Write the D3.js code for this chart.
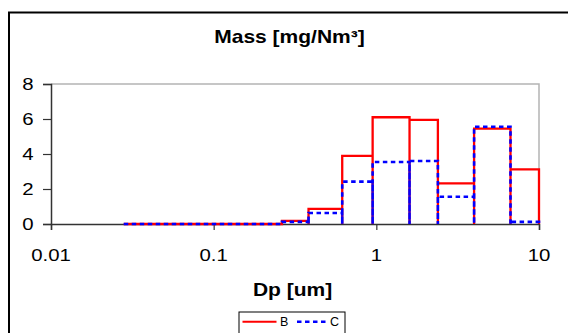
<!DOCTYPE html>
<html>
<head>
<meta charset="utf-8">
<script src="https://cdn.jsdelivr.net/npm/d3@7"></script>
<style>
  html, body { margin: 0; padding: 0; background: #fff; }
  svg { display: block; font-family: "Liberation Sans", Arial, sans-serif; }
</style>
</head>
<body>
<svg id="chart" width="568" height="333"></svg>
<script>
// Impactor stage cut diameters (um) and mass per stage (mg/Nm³)
const binEdges = [0.028, 0.056, 0.095, 0.157, 0.263, 0.383, 0.617, 0.949, 1.6, 2.39, 3.99, 6.68, 10];
const seriesB = [0, 0, 0, 0, 0.18, 0.87, 3.89, 6.10, 5.95, 2.32, 5.45, 3.12];
const seriesC = [0, 0, 0, 0, 0.12, 0.63, 2.42, 3.54, 3.60, 1.56, 5.56, 0.12];
const xTicks = [0.01, 0.1, 1, 10];
const xTickLabels = ["0.01", "0.1", "1", "10"];
const yTicks = [0, 2, 4, 6, 8];
const seriesNames = ["B", "C"];

const svg = d3.select("#chart");
const stretch = 1.2;

// Outer chart frame
svg.append("rect")
  .attr("x", 9).attr("y", 12.5)
  .attr("width", 580).attr("height", 340)
  .attr("fill", "none").attr("stroke", "#000").attr("stroke-width", 2);

const x = d3.scaleLog().domain([0.01, 10]).range([51, 539]);
const y = d3.scaleLinear().domain([0, 8]).range([224, 84]);

// Plot area border (top and right)
svg.append("path")
  .attr("d", `M${x(0.01)},${y(8)}H${x(10)}V${y(0)}`)
  .attr("fill", "none").attr("stroke", "#b4b4b4").attr("stroke-width", 1.5);

// Stretched text helper
function label(tx, ty, str, opts) {
  const t = svg.append("text")
    .attr("transform", `translate(${tx},${ty}) scale(${opts.sx || stretch},1)`)
    .attr("text-anchor", opts.anchor || "middle")
    .attr("font-size", opts.size)
    .attr("font-weight", opts.weight || "normal")
    .attr("fill", "#000")
    .text(str);
  return t;
}

// Y axis
const yAxis = d3.axisLeft(y).tickValues(yTicks).tickSize(8).tickFormat("");
const gy = svg.append("g").attr("transform", `translate(${x(0.01)},0)`).call(yAxis);
gy.select(".domain").attr("stroke", "#333").attr("stroke-width", 1.5);
gy.selectAll(".tick line").attr("stroke", "#333").attr("stroke-width", 1.2);
yTicks.forEach(v => label(33.5, y(v) + 6.3, String(v), { size: 17, anchor: "end" }));

// X axis
const xAxis = d3.axisBottom(x).tickValues(xTicks).tickSize(6).tickFormat("");
const gx = svg.append("g").attr("transform", `translate(0,${y(0)})`).call(xAxis);
gx.select(".domain").attr("stroke", "#333").attr("stroke-width", 1.5);
gx.selectAll(".tick line").attr("stroke", "#333").attr("stroke-width", 1.2);
xTicks.forEach((v, i) => label(x(v), 260.5, xTickLabels[i], { size: 17 }));

// Stepped histogram outline: each stage drawn as an open box down to zero
function stepPoints(vals) {
  const pts = [];
  vals.forEach((v, i) => {
    pts.push([binEdges[i], 0], [binEdges[i], v], [binEdges[i + 1], v], [binEdges[i + 1], 0]);
  });
  return pts;
}
const line = d3.line().x(d => x(d[0])).y(d => y(d[1]));

svg.append("path")
  .attr("d", line(stepPoints(seriesB)))
  .attr("fill", "none").attr("stroke", "#ff0000").attr("stroke-width", 2.3)
  .attr("stroke-linejoin", "miter");

svg.append("path")
  .attr("d", line(stepPoints(seriesC)))
  .attr("fill", "none").attr("stroke", "#0000ff").attr("stroke-width", 2.6)
  .attr("stroke-dasharray", "4.5,3.5");

// Titles
label(289.5, 42.5, "Mass [mg/Nm³]", { size: 17.5, weight: "bold" });
label(292.5, 296, "Dp [um]", { size: 17.5, weight: "bold" });

// Legend
const lg = svg.append("g");
lg.append("rect")
  .attr("x", 239).attr("y", 312)
  .attr("width", 106).attr("height", 30)
  .attr("fill", "#fff").attr("stroke", "#000").attr("stroke-width", 1);
lg.append("line")
  .attr("x1", 242.5).attr("x2", 276.5).attr("y1", 321.7).attr("y2", 321.7)
  .attr("stroke", "#ff0000").attr("stroke-width", 2);
lg.append("text").attr("x", 280).attr("y", 326.2)
  .attr("font-size", 12.5).text(seriesNames[0]);
lg.append("line")
  .attr("x1", 297).attr("x2", 327).attr("y1", 321.7).attr("y2", 321.7)
  .attr("stroke", "#0000ff").attr("stroke-width", 2.5)
  .attr("stroke-dasharray", "4.5,3.5");
lg.append("text").attr("x", 330).attr("y", 326.2)
  .attr("font-size", 12.5).text(seriesNames[1]);
</script>
</body>
</html>
